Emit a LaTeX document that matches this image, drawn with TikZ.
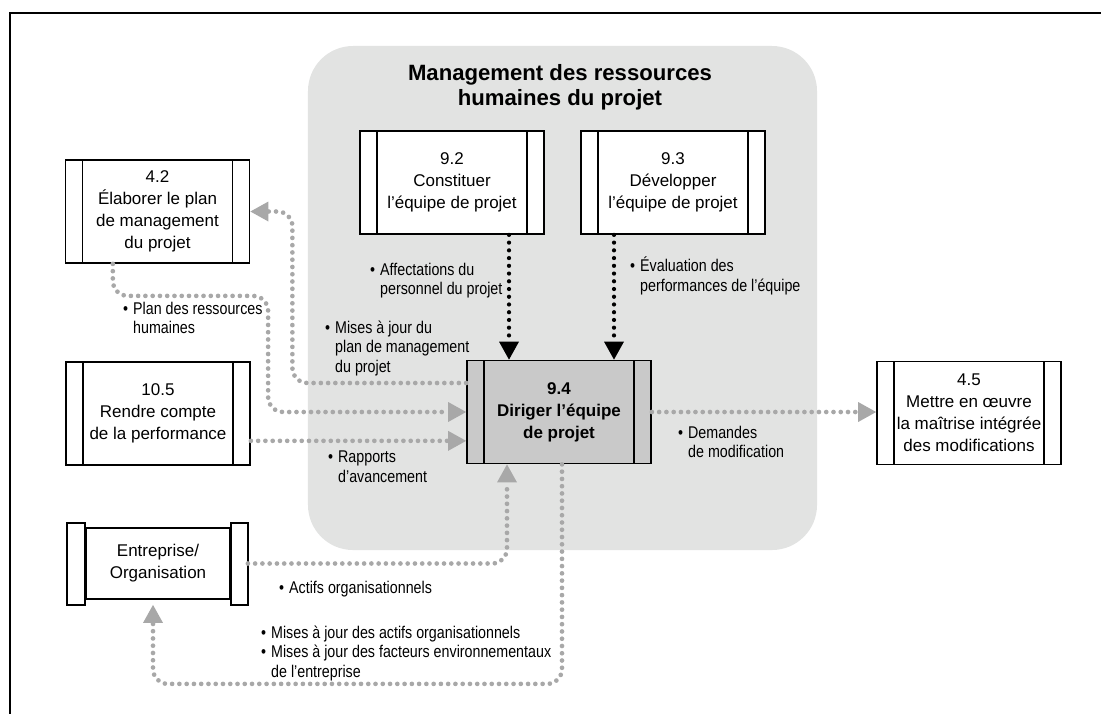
\documentclass[tikz,border=0pt]{standalone}
\usepackage{fontspec}
\setmainfont{Liberation Sans}
\newfontfamily\narrowfont[FakeStretch=0.84]{Liberation Sans}
\usepackage{tikz}
\usetikzlibrary{arrows.meta, positioning}
\definecolor{cGroup}{HTML}{E2E3E2}
\definecolor{cActive}{HTML}{C9C9C9}
\definecolor{cFlow}{HTML}{A8A8A8}
\newcommand{\itm}{\makebox[8.5pt][l]{\textbullet}}
\newcommand{\hang}{\hspace*{8.5pt}}

\begin{document}
\begin{tikzpicture}[x=0.03cm, y=-0.03cm,
  every node/.style={font=\fontsize{14.5}{18.7}\selectfont},
  proc/.style={draw, line width=1.5pt, fill=white, minimum width=5.52cm, minimum height=3.09cm, inner sep=0pt, align=center,
    path picture={\draw[line width=1.5pt]
      ([xshift=0.51cm]path picture bounding box.north west) -- ([xshift=0.51cm]path picture bounding box.south west)
      ([xshift=-0.51cm]path picture bounding box.north east) -- ([xshift=-0.51cm]path picture bounding box.south east);}},
  org/.style={draw, line width=1.5pt, fill=white, minimum width=4.32cm, minimum height=2.13cm, inner sep=0pt, align=center},
  band/.style={draw, line width=1.5pt, fill=white},
  lbl/.style={font=\narrowfont\fontsize{14.5}{16.8}\selectfont, align=left, anchor=north west, inner sep=0pt},
  tip/.style={-{Triangle[length=0.54cm, width=0.6cm, line width=0pt]}},
  blk/.style={tip, draw=black, line width=3.6pt, line cap=round, dash pattern=on 0pt off 6.6pt},
  gry/.style={tip, draw=cFlow, line width=4pt, line cap=round, dash pattern=on 0pt off 6.2pt, rounded corners=0.45cm}
]
\useasboundingbox (0,0) rectangle (1101,714);
\draw[line width=2.4pt] (1101,13) -- (10,13) -- (10,714);

% process group
\node[fill=cGroup, rounded corners=1.35cm, minimum width=15.27cm, minimum height=15.12cm] (hr) at (562.5,298) {};
\node[font=\bfseries\fontsize{18.9}{21.5}\selectfont, align=center] (title) at (560,87) {Management des ressources\\humaines du projet};

\node[proc] (n42) at (157.5,211.5) {4.2\\Élaborer le plan\\de management\\du projet};
\node[proc] (n92) at (452,182.5) {9.2\\Constituer\\l’équipe de projet};
\node[proc] (n93) at (673,182.5) {9.3\\Développer\\l’équipe de projet};
\node[proc, fill=cActive, font=\bfseries\fontsize{14.5}{18.7}\selectfont] (n94) at (559,412) {9.4\\Diriger l’équipe\\de projet};
\node[proc] (n105) at (158,413.5) {10.5\\Rendre compte\\de la performance};
\node[proc] (n45) at (969,413) {4.5\\Mettre en œuvre\\la maîtrise intégrée\\des modifications};
\node[org] (ent) at (158,563.5) {Entreprise/\\Organisation};
\draw[band] ([xshift=-0.54cm,yshift=0.12cm]ent.north west) rectangle ([yshift=-0.15cm]ent.south west);
\draw[band] ([yshift=0.12cm]ent.north east) rectangle ([xshift=0.51cm,yshift=-0.15cm]ent.south east);

% flows
\draw[blk] ([xshift=1.71cm]n92.south) -- ([xshift=1.71cm]n92.south |- n94.north);
\draw[blk] ([xshift=-1.77cm]n93.south) -- ([xshift=-1.77cm]n93.south |- n94.north);
\draw[gry] ([yshift=0.87cm]n94.west) -| ([xshift=1.26cm]n42.east) -- (n42.east);
\draw[gry] ([xshift=-1.34cm]n42.south) -- ([xshift=-1.34cm,yshift=-0.96cm]n42.south) -| ([xshift=-5.94cm]n94.west) -- (n94.west);
\draw[gry] ([yshift=-0.82cm]n105.east) -- ([yshift=-0.82cm]n105.east -| n94.west);
\draw[gry] (n94.east) -- (n94.east -| n45.west);
\draw[gry] ([xshift=0.51cm]ent.east) -| ([xshift=-1.56cm]n94.south);
\draw[gry] ([xshift=0.09cm]n94.south) |- ([xshift=-0.15cm,yshift=-2.52cm]ent.south) -- ([xshift=-0.15cm,yshift=-0.15cm]ent.south);

% labels
\node[lbl] (l1) at (370,262.5) {\itm Affectations du\\\hang personnel du projet};
\node[lbl] (l2) at (630,257) {\itm Évaluation des\\\hang performances de l’équipe};
\node[lbl] (l3) at (123,301.5) {\itm Plan des ressources\\\hang humaines};
\node[lbl] (l4) at (325,320.5) {\itm Mises à jour du\\\hang plan de management\\\hang du projet};
\node[lbl] (l5) at (328,450.5) {\itm Rapports\\\hang d’avancement};
\node[lbl] (l6) at (678,425.5) {\itm Demandes\\\hang de modification};
\node[lbl] (l7) at (279,580.5) {\itm Actifs organisationnels};
\node[lbl] (l8) at (261,625.5) {\itm Mises à jour des actifs organisationnels\\\itm Mises à jour des facteurs environnementaux\\\hang de l’entreprise};
\end{tikzpicture}
\end{document}
